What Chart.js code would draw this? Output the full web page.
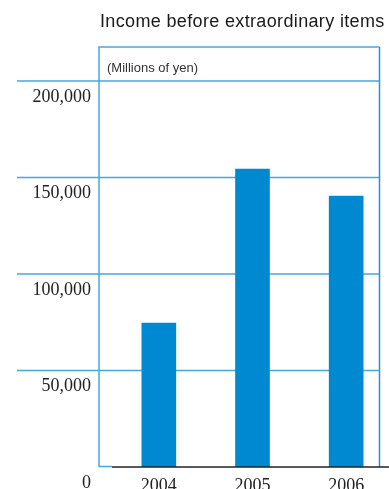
<!DOCTYPE html>
<html>
<head>
<meta charset="utf-8">
<script src="https://cdn.jsdelivr.net/npm/chart.js@4.4.0/dist/chart.umd.min.js"></script>
<style>
  html, body { margin: 0; padding: 0; overflow: hidden; background: #fff; }
  #wrap { width: 393px; height: 489px; }
</style>
</head>
<body>
<div id="wrap"><canvas id="incomeChart"></canvas></div>
<script>
// data
const years = ['2004', '2005', '2006'];
const income = [74600, 154400, 140400];
const yTicks = [0, 50000, 100000, 150000, 200000];

const titleText = 'Income before extraordinary items';
const unitText = '(Millions of yen)';

const blueLine = '#45a8e0';
const barBlue = '#0089d1';

// frame, grid lines and labels drawn around the library's scales
const framePlugin = {
    id: 'frame',
    beforeDatasetsDraw(chart) {
        const ctx = chart.ctx;
        const y = chart.scales.y;
        const x = chart.scales.x;
        const area = chart.chartArea;
        const boxLeft = 99, boxRight = 379.5, boxTop = 47;
        const zero = y.getPixelForValue(0);

        ctx.save();
        // title
        ctx.fillStyle = '#1a1a1a';
        ctx.font = '18px "Liberation Sans", Arial, sans-serif';
        ctx.letterSpacing = '0.35px';
        ctx.textBaseline = 'alphabetic';
        ctx.textAlign = 'left';
        ctx.fillText(titleText, 100, 27);
        ctx.letterSpacing = '0px';

        // unit
        ctx.fillStyle = '#333';
        ctx.font = '13px "Liberation Sans", Arial, sans-serif';
        ctx.fillText(unitText, 107, 72);

        // grid lines
        ctx.strokeStyle = blueLine;
        ctx.lineWidth = 1.5;
        yTicks.forEach(v => {
            if (v === 0) return;
            const py = y.getPixelForValue(v);
            ctx.beginPath();
            ctx.moveTo(17, py);
            ctx.lineTo(boxRight, py);
            ctx.stroke();
        });

        // box
        ctx.beginPath();
        ctx.moveTo(boxLeft, zero);
        ctx.lineTo(boxLeft, boxTop);
        ctx.lineTo(boxRight, boxTop);
        ctx.stroke();
        ctx.beginPath();
        ctx.moveTo(boxLeft, zero - 0.5);
        ctx.lineTo(area.left, zero - 0.5);
        ctx.stroke();
        ctx.strokeStyle = '#2a90d2';
        ctx.beginPath();
        ctx.moveTo(boxRight, boxTop);
        ctx.lineTo(boxRight, zero);
        ctx.stroke();

        // y labels
        ctx.fillStyle = '#222';
        ctx.font = '18px "Liberation Serif", "Times New Roman", serif';
        ctx.textAlign = 'right';
        ctx.textBaseline = 'middle';
        yTicks.forEach(v => {
            const py = y.getPixelForValue(v);
            ctx.fillText(v.toLocaleString('en-US'), 91, py + 16);
        });

        // x labels
        ctx.textAlign = 'center';
        ctx.textBaseline = 'alphabetic';
        years.forEach((yr, i) => {
            ctx.fillText(yr, x.getPixelForValue(i), 491);
        });
        ctx.restore();
    },
    afterDatasetsDraw(chart) {
        const ctx = chart.ctx;
        const zero = chart.scales.y.getPixelForValue(0);
        ctx.save();
        ctx.strokeStyle = '#222';
        ctx.lineWidth = 1.5;
        ctx.beginPath();
        ctx.moveTo(chart.chartArea.left, zero);
        ctx.lineTo(chart.width, zero);
        ctx.stroke();
        ctx.restore();
    }
};

const ctx = document.getElementById('incomeChart').getContext('2d');
const incomeChart = new Chart(ctx, {
    type: 'bar',
    data: {
        labels: years,
        datasets: [{
            data: income,
            backgroundColor: barBlue,
            borderWidth: 0,
            barThickness: 34
        }]
    },
    options: {
        responsive: true,
        maintainAspectRatio: false,
        animation: false,
        layout: {
            padding: { left: 112, right: 0, top: 81, bottom: 22 }
        },
        scales: {
            x: { display: false, offset: true },
            y: { display: false, min: 0, max: 200000 }
        },
        plugins: {
            legend: { display: false },
            tooltip: { enabled: false }
        }
    },
    plugins: [framePlugin]
});
</script>
</body>
</html>
